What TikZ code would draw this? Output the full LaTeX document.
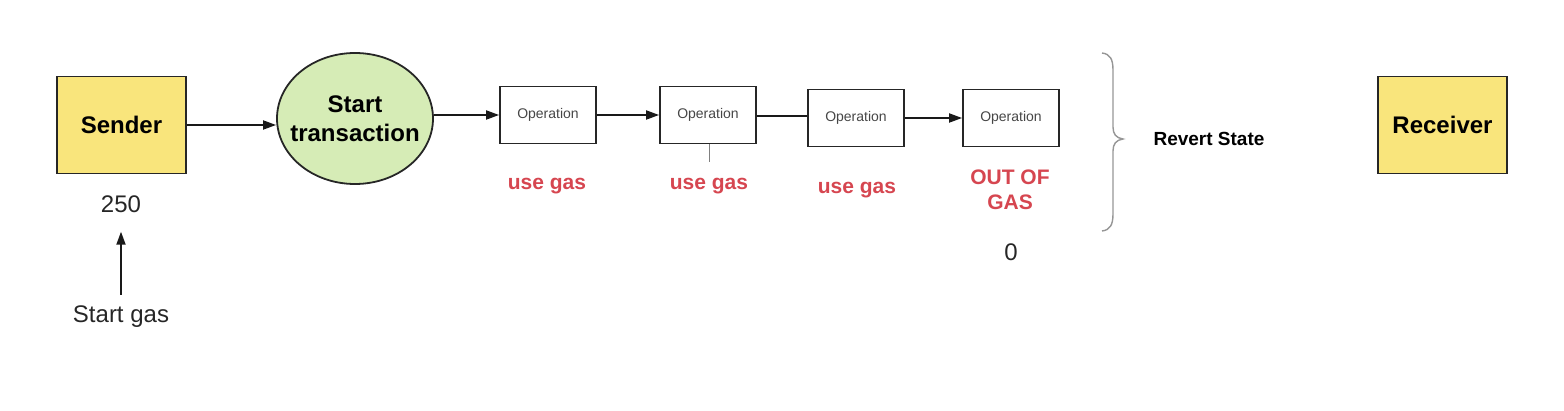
\documentclass[tikz,border=0pt]{standalone}
\usepackage{fontspec}
\setmainfont{Liberation Sans}
\usetikzlibrary{shapes.geometric,arrows.meta,positioning}

\definecolor{partyyellow}{RGB}{249,229,124}
\definecolor{startgreen}{RGB}{214,236,182}
\definecolor{gasred}{RGB}{214,70,80}
\definecolor{optext}{RGB}{70,70,70}
\definecolor{bracegray}{RGB}{150,150,150}

\begin{document}
\begin{tikzpicture}[x=1pt,y=1pt,yscale=-1,xscale=1,
  party/.style={draw=black!85,line width=1.8pt,fill=partyyellow,minimum width=129pt,minimum height=97pt,inner sep=0pt,font=\fontsize{24}{29}\selectfont\bfseries},
  opbox/.style={draw=black!85,line width=1.8pt,minimum width=96pt,minimum height=57pt,inner sep=0pt,text=optext,font=\fontsize{14}{17}\selectfont},
  gaslbl/.style={text=gasred,align=center,inner sep=0pt,font=\fontsize{21}{25}\selectfont\bfseries},
  plain/.style={inner sep=0pt,text=black!85,font=\fontsize{24}{29}\selectfont},
  flow/.style={line width=1.8pt,draw=black!90,-{Triangle[length=13pt,width=9pt]}}]
\useasboundingbox (0,0) rectangle (1564,411);

%Shape: Rectangle [id:sender]
\node[party] (sender) at (121.5,125) {Sender};
%Shape: Ellipse [id:start]
\node[ellipse,draw=black!85,line width=1.8pt,fill=startgreen,minimum width=156pt,minimum height=131pt,inner xsep=-16pt,inner ysep=0pt,align=center,font=\fontsize{24}{29}\selectfont\bfseries] (start) at (355,118.5) {Start\\transaction};
%Shape: Rectangle [id:op1]
\node[opbox] (op1) at (548,115) {Operation};
%Shape: Rectangle [id:op2]
\node[opbox] (op2) at (708,115) {Operation};
%Shape: Rectangle [id:op3]
\node[opbox] (op3) at (856,118) {Operation};
%Shape: Rectangle [id:op4]
\node[opbox] (op4) at (1011,118) {Operation};
%Shape: Rectangle [id:receiver]
\node[party] (receiver) at (1442.5,125) {Receiver};

%Straight Lines [id:flow]
\draw[flow] (sender.east) -- (sender.east -| start.west);
\draw[flow] (start.east |- op1.west) -- (op1.west);
\draw[flow] (op1) -- (op2);
\draw[line width=1.8pt,draw=black!90] (op2.east) ++(0,1) -- (op3.west |- 0,116);
\draw[flow] (op3) -- (op4);

%Straight Lines [id:tick]
\coordinate (tick) at (709,162);
\draw[line width=1pt,draw=black!50] (op2.south -| tick) -- (tick);

% Text Node
\node[gaslbl] (gas1) at (547,186) {use gas};
% Text Node
\node[gaslbl] (gas2) at (709,186) {use gas};
% Text Node
\node[gaslbl] (gas3) at (857,190) {use gas};
% Text Node
\node[gaslbl] (outgas) at (1010,190) {OUT OF\\GAS};
% Text Node
\node[plain] (zero) at (1011,252) {0};
% Text Node
\node[plain] (amount) at (121,204) {250};
% Text Node
\node[plain] (startgas) at (121,317) {Start gas};
\draw[flow,shorten <=11pt,shorten >=19pt] (startgas.north) -- (amount.south);

%Curve Lines [id:brace]
\draw[line width=1.4pt,draw=bracegray] (1102,53) .. controls (1110,54) and (1113,59) .. (1113,70) -- (1113,127) .. controls (1113,134) and (1116,138) .. (1123,139) .. controls (1116,140) and (1113,144) .. (1113,151) -- (1113,214) .. controls (1113,225) and (1110,230) .. (1102,231);
% Text Node
\node[inner sep=0pt,font=\fontsize{19}{23}\selectfont\bfseries] (revert) at (1209,139) {Revert State};

\end{tikzpicture}
\end{document}
